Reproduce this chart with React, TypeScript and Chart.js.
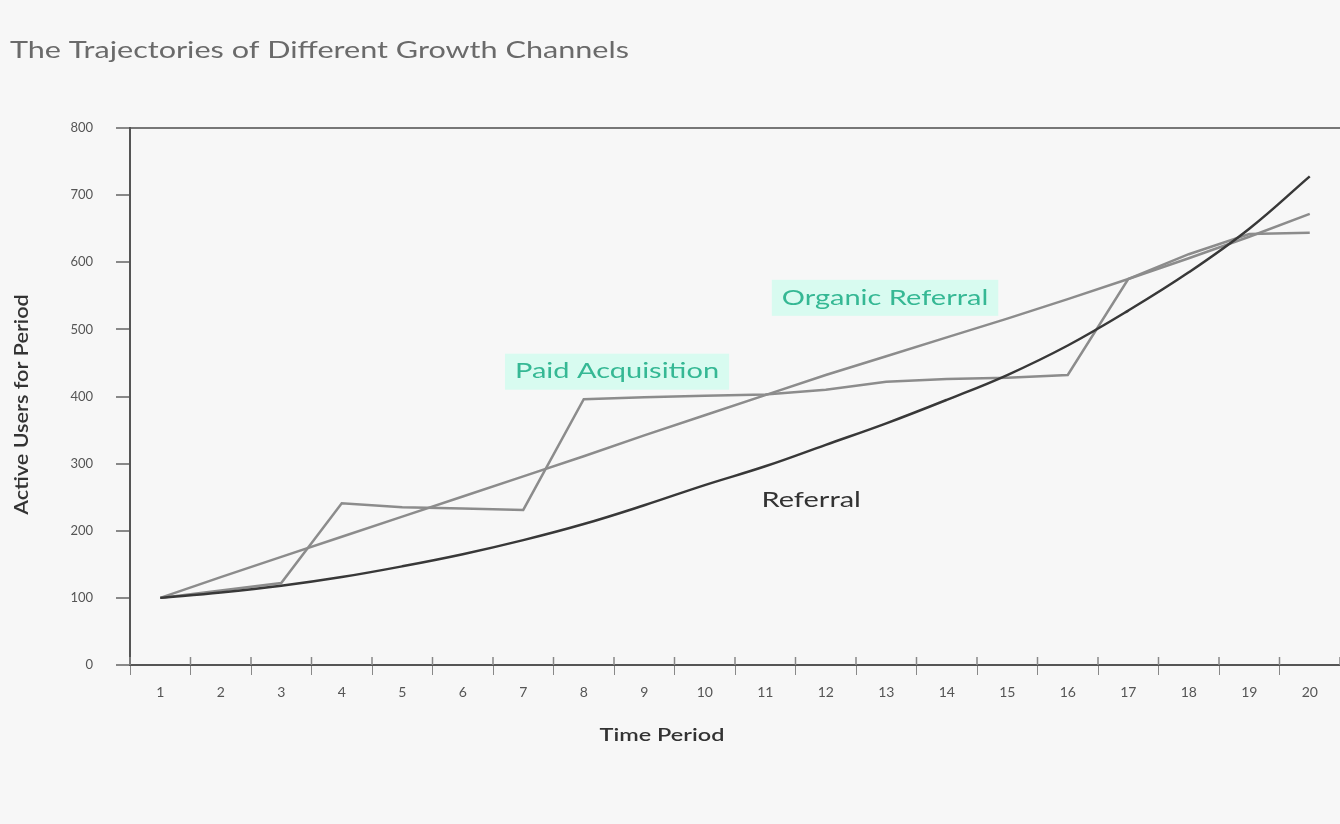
import React, { useEffect, useRef } from "react";
import { Chart, registerables } from "chart.js";

Chart.register(...registerables);

const periods = ["1","2","3","4","5","6","7","8","9","10","11","12","13","14","15","16","17","18","19","20"];
const referral = [100, 108, 118, 131, 147, 165, 186, 210, 238, 268, 296, 328, 360, 395, 432, 476, 528, 585, 650, 728];
const paidAcquisition = [100, 111, 122, 241, 235, 233, 231, 396, 399, 401, 403, 410, 422, 426, 428, 432, 575, 612, 642, 644];
const organicReferral = [100, 131, 161, 191, 221, 251, 281, 311, 342, 372, 402, 432, 460, 488, 516, 545, 575, 606, 638, 672];
const yTicks = [0, 100, 200, 300, 400, 500, 600, 700, 800];

const chartTitle = "The Trajectories of Different Growth Channels";
const xTitle = "Time Period";
const yTitle = "Active Users for Period";

// label anchors in data space: [category index (fractional), value]
const lineLabels = [
  { text: "Paid Acquisition", idx: 7.55, value: 437, color: "#35b894", bg: "#d8fbf0" },
  { text: "Organic Referral", idx: 11.98, value: 547, color: "#35b894", bg: "#d8fbf0" },
  { text: "Referral", idx: 10.76, value: 246, color: "#333333", bg: null },
];

const FONT = "Lato, 'Open Sans', sans-serif";
const STRETCH = 1.38;

function stretchText(ctx: any, text: string, x: number, y: number, sx: number, align: string) {
  ctx.save();
  ctx.translate(x, y);
  ctx.scale(sx, 1);
  ctx.textAlign = align;
  ctx.textBaseline = "middle";
  ctx.fillText(text, 0, 0);
  ctx.restore();
}

const decorPlugin = {
  id: "decor",
  beforeDraw(chart: any) {
    const { ctx, width, height } = chart;
    ctx.save();
    ctx.fillStyle = "#f7f7f7";
    ctx.fillRect(0, 0, width, height);
    ctx.restore();
  },
  afterDraw(chart: any) {
    const { ctx, scales, chartArea } = chart;
    const xs = scales.x;
    const ys = scales.y;
    ctx.save();
    // chart title
    ctx.fillStyle = "#6a6a6a";
    ctx.font = `23px ${FONT}`;
    stretchText(ctx, chartTitle, 10, 51, 1.33, "left");
    // x title
    ctx.fillStyle = "#333";
    ctx.font = `600 17px ${FONT}`;
    stretchText(ctx, xTitle, 662, chartArea.bottom + 71, STRETCH, "center");
    // y title
    ctx.save();
    ctx.translate(22, (chartArea.top + chartArea.bottom) / 2 + 8);
    ctx.rotate(-Math.PI / 2);
    ctx.font = `600 20px ${FONT}`;
    ctx.textAlign = "center";
    ctx.textBaseline = "middle";
    ctx.scale(1.08, 1);
    ctx.fillText(yTitle, 0, 0);
    ctx.restore();
    // line labels
    ctx.font = `21px ${FONT}`;
    for (const l of lineLabels) {
      const i0 = Math.floor(l.idx);
      const f = l.idx - i0;
      const p0 = xs.getPixelForValue(i0);
      const p1 = xs.getPixelForValue(i0 + 1);
      const x = p0 + (p1 - p0) * f;
      const y = ys.getPixelForValue(l.value);
      const w = ctx.measureText(l.text).width * STRETCH;
      if (l.bg) {
        ctx.fillStyle = l.bg;
        ctx.fillRect(x - w / 2 - 10, y - 18, w + 20, 36);
      }
      ctx.fillStyle = l.color;
      stretchText(ctx, l.text, x, y, STRETCH, "center");
    }
    // x tick marks crossing the axis (upper half)
    ctx.strokeStyle = "#888";
    ctx.lineWidth = 1.5;
    const n = periods.length;
    for (let i = 0; i <= n; i++) {
      const a = xs.getPixelForValue(Math.max(0, i - 1));
      const b = xs.getPixelForValue(Math.min(n - 1, i));
      let px;
      if (i === 0) px = a - (xs.getPixelForValue(1) - xs.getPixelForValue(0)) / 2;
      else if (i === n) px = b + (xs.getPixelForValue(1) - xs.getPixelForValue(0)) / 2;
      else px = (a + b) / 2;
      ctx.beginPath();
      ctx.moveTo(px, chartArea.bottom - 8);
      ctx.lineTo(px, chartArea.bottom);
      ctx.stroke();
    }
    ctx.restore();
  },
};

export default function App() {
  const ref = useRef<HTMLCanvasElement | null>(null);
  useEffect(() => {
    document.body.style.margin = "0";
    document.body.style.background = "#f7f7f7";
    const canvas = ref.current;
    if (!canvas) return;
    const chart = new Chart(canvas, {
      type: "line",
      data: {
        labels: periods,
        datasets: [
          {
            label: "Referral",
            data: referral,
            borderColor: "#383838",
            borderWidth: 2.5,
            pointRadius: 0,
            tension: 0.4,
            fill: false,
          },
          {
            label: "Paid Acquisition",
            data: paidAcquisition,
            borderColor: "#8c8c8c",
            borderWidth: 2.5,
            pointRadius: 0,
            tension: 0,
            fill: false,
          },
          {
            label: "Organic Referral",
            data: organicReferral,
            borderColor: "#8c8c8c",
            borderWidth: 2.5,
            pointRadius: 0,
            tension: 0,
            fill: false,
          },
        ],
      },
      options: {
        animation: false,
        responsive: false,
        maintainAspectRatio: false,
        layout: { padding: { top: 128, right: 0, bottom: 0, left: 0 } },
        plugins: {
          legend: { display: false },
          title: { display: false },
          tooltip: { enabled: false },
        },
        scales: {
          x: {
            type: "category",
            offset: true,
            afterFit: (s: any) => { s.height = 824 - 665; },
            border: { display: true, color: "#555", width: 2 },
            grid: {
              offset: true,
              drawOnChartArea: false,
              drawTicks: true,
              tickLength: 10,
              tickColor: "#888",
              color: "#888",
            },
            ticks: {
              color: "#555",
              font: { family: FONT, size: 14 },
              padding: 9,
              maxRotation: 0,
              autoSkip: false,
            },
          },
          y: {
            min: 0,
            max: 800,
            afterFit: (s: any) => { s.width = 130; },
            afterBuildTicks: (s: any) => { s.ticks = yTicks.map((v) => ({ value: v })); },
            border: { display: true, color: "#555", width: 2 },
            grid: {
              drawTicks: true,
              tickLength: 14,
              tickColor: "#888",
              lineWidth: 2,
              color: (c: any) => (c.tick && c.tick.value === 800 ? "#777" : "rgba(0,0,0,0)"),
            },
            ticks: {
              color: "#555",
              font: { family: FONT, size: 13 },
              padding: 23,
              stepSize: 100,
            },
          },
        },
      },
      plugins: [decorPlugin],
    });
    return () => chart.destroy();
  }, []);
  return (
    <div style={{ position: "absolute", left: 0, top: 0, width: 1340, height: 824, background: "#f7f7f7" }}>
      <canvas ref={ref} width={1340} height={824} style={{ width: 1340, height: 824, display: "block" }} />
    </div>
  );
}
